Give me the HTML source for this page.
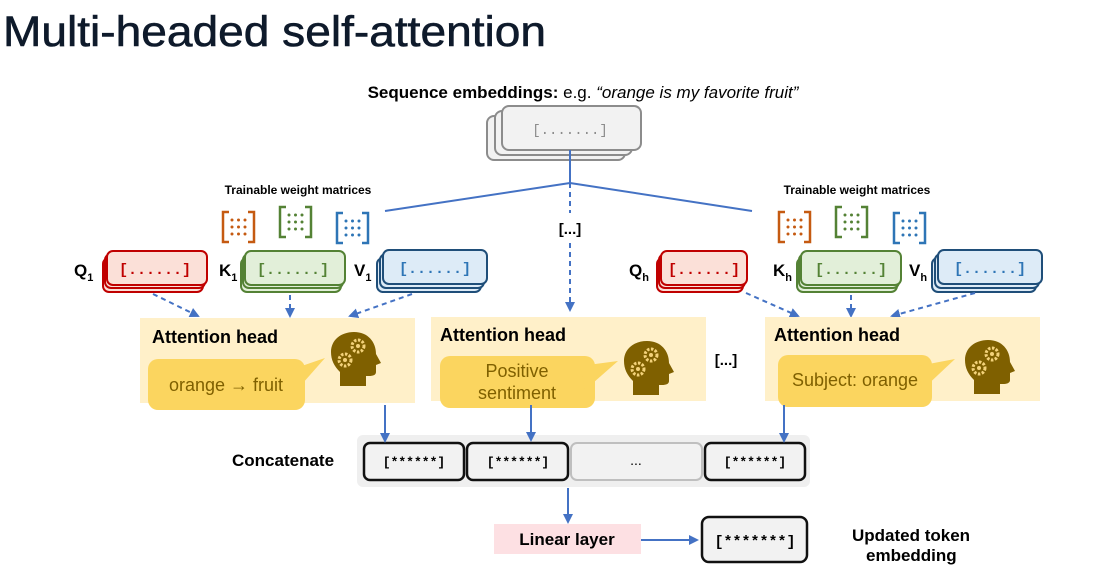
<!DOCTYPE html>
<html><head><meta charset="utf-8"><style>
html,body{margin:0;padding:0;background:#fff;}
svg{display:block;font-family:"Liberation Sans","DejaVu Sans",sans-serif;}
</style></head><body>
<svg width="1095" height="588" viewBox="0 0 1095 588" xmlns="http://www.w3.org/2000/svg">
<defs>
<marker id="ah" markerWidth="10" markerHeight="10" refX="8" refY="5" orient="auto" markerUnits="userSpaceOnUse"><path d="M0,0 L10,5 L0,10 z" fill="#4472c4"/></marker>
<g id="head">
<path d="M0,-22 C14,-22 22,-12 22,0 L27,9 L22,11 L22,18 C22,21 19,22 15,22 L12,22 L12,32 L-14,32 L-14,18 C-20,12 -23,6 -23,-2 C-23,-14 -13,-22 0,-22 z" fill="#7f6000"/>
<circle cx="4" cy="-8" r="6" fill="none" stroke="#f3d27a" stroke-width="3" stroke-dasharray="2.5 1.5"/>
<circle cx="4" cy="-8" r="2" fill="#f3d27a"/>
<circle cx="-9" cy="6" r="6" fill="none" stroke="#f3d27a" stroke-width="3" stroke-dasharray="2.5 1.5"/>
<circle cx="-9" cy="6" r="2" fill="#f3d27a"/>
</g>
<g id="mat">
<path d="M7,0 L1,0 L1,30 L7,30 M26,0 L32,0 L32,30 L26,30" fill="none" stroke="currentColor" stroke-width="2.5"/>
<g fill="currentColor">
<circle cx="10" cy="8" r="1.5"/><circle cx="16.5" cy="8" r="1.5"/><circle cx="23" cy="8" r="1.5"/>
<circle cx="10" cy="15" r="1.5"/><circle cx="16.5" cy="15" r="1.5"/><circle cx="23" cy="15" r="1.5"/>
<circle cx="10" cy="22" r="1.5"/><circle cx="16.5" cy="22" r="1.5"/><circle cx="23" cy="22" r="1.5"/>
</g>
</g>
</defs>

<text x="3" y="46" font-size="43" fill="#0e1a2b" stroke="#0e1a2b" stroke-width="0.6" textLength="543" lengthAdjust="spacingAndGlyphs">Multi-headed self-attention</text>

<text x="583" y="98" font-size="17" text-anchor="middle" fill="#000"><tspan font-weight="bold">Sequence embeddings:</tspan> e.g.  <tspan font-style="italic">“orange is my favorite fruit”</tspan></text>

<g stroke="#8c8c8c" stroke-width="2" fill="#f2f2f2">
<rect x="487" y="116" width="138" height="44" rx="7"/>
<rect x="495" y="111" width="137" height="44" rx="7"/>
<rect x="502" y="106" width="139" height="44" rx="7"/>
</g>
<text x="570" y="134" font-size="14" fill="#8c8c8c" text-anchor="middle" font-family="Liberation Mono, monospace">[.......]</text>

<g stroke="#4472c4" stroke-width="2" fill="none">
<line x1="570" y1="150" x2="570" y2="183"/>
<line x1="570" y1="183" x2="385" y2="211"/>
<line x1="570" y1="183" x2="752" y2="211"/>
<line x1="570" y1="183" x2="570" y2="213" stroke-dasharray="5 4"/>
<line x1="570" y1="243" x2="570" y2="310" stroke-dasharray="5 4" marker-end="url(#ah)"/>
</g>
<text x="570" y="234" font-size="15" font-weight="bold" text-anchor="middle">[...]</text>

<text x="298" y="194" font-size="12" font-weight="bold" text-anchor="middle">Trainable weight matrices</text>
<text x="857" y="194" font-size="12" font-weight="bold" text-anchor="middle">Trainable weight matrices</text>

<use href="#mat" x="222" y="212" style="color:#c55a11"/>
<use href="#mat" x="279" y="207" style="color:#548235"/>
<use href="#mat" x="336" y="213" style="color:#2e75b6"/>
<use href="#mat" x="778" y="212" style="color:#c55a11"/>
<use href="#mat" x="835" y="207" style="color:#548235"/>
<use href="#mat" x="893" y="213" style="color:#2e75b6"/>

<g stroke-width="2">
<g stroke="#c00000" fill="#fbe0d8">
<rect x="103" y="258" width="100" height="34" rx="6"/><rect x="105" y="254" width="100" height="34" rx="6"/><rect x="107" y="251" width="100" height="34" rx="6"/>
<rect x="657" y="258" width="86" height="34" rx="6"/><rect x="659" y="254" width="86" height="34" rx="6"/><rect x="661" y="251" width="86" height="34" rx="6"/>
</g>
<g stroke="#548235" fill="#e2efd9">
<rect x="241" y="258" width="100" height="34" rx="6"/><rect x="243" y="254" width="100" height="34" rx="6"/><rect x="245" y="251" width="100" height="34" rx="6"/>
<rect x="797" y="258" width="100" height="34" rx="6"/><rect x="799" y="254" width="100" height="34" rx="6"/><rect x="801" y="251" width="100" height="34" rx="6"/>
</g>
<g stroke="#1f4e79" fill="#ddebf7">
<rect x="377" y="258" width="104" height="34" rx="6"/><rect x="380" y="254" width="104" height="34" rx="6"/><rect x="383" y="250" width="104" height="34" rx="6"/>
<rect x="932" y="258" width="104" height="34" rx="6"/><rect x="935" y="254" width="104" height="34" rx="6"/><rect x="938" y="250" width="104" height="34" rx="6"/>
</g>
</g>
<g font-family="Liberation Mono, monospace" font-size="15" font-weight="bold" text-anchor="middle">
<text x="155" y="274" fill="#c00000">[......]</text>
<text x="293" y="274" fill="#548235">[......]</text>
<text x="435" y="273" fill="#2e75b6">[......]</text>
<text x="704" y="274" fill="#c00000">[......]</text>
<text x="851" y="274" fill="#548235">[......]</text>
<text x="990" y="273" fill="#2e75b6">[......]</text>
</g>
<g font-size="17" font-weight="bold">
<text x="74" y="276">Q<tspan font-size="11" dy="5">1</tspan></text>
<text x="219" y="276">K<tspan font-size="11" dy="5">1</tspan></text>
<text x="354" y="276">V<tspan font-size="11" dy="5">1</tspan></text>
<text x="629" y="276">Q<tspan font-size="11" dy="5">h</tspan></text>
<text x="773" y="276">K<tspan font-size="11" dy="5">h</tspan></text>
<text x="909" y="276">V<tspan font-size="11" dy="5">h</tspan></text>
</g>

<g stroke="#4472c4" stroke-width="2" stroke-dasharray="5 4" fill="none" marker-end="url(#ah)">
<line x1="153" y1="294" x2="198" y2="316"/>
<line x1="290" y1="295" x2="290" y2="316"/>
<line x1="412" y1="294" x2="350" y2="316"/>
<line x1="746" y1="293" x2="798" y2="316"/>
<line x1="851" y1="295" x2="851" y2="316"/>
<line x1="975" y1="293" x2="892" y2="316"/>
</g>

<g fill="#fff0c9">
<rect x="140" y="318" width="275" height="85"/>
<rect x="431" y="317" width="275" height="84"/>
<rect x="765" y="317" width="275" height="84"/>
</g>
<g font-size="18" font-weight="bold">
<text x="152" y="343">Attention head</text>
<text x="440" y="341">Attention head</text>
<text x="774" y="341">Attention head</text>
</g>
<g fill="#fbd55f">
<rect x="148" y="359" width="157" height="51" rx="10"/>
<path d="M290,370 L325,358 L295,392 z"/>
<rect x="440" y="356" width="155" height="52" rx="10"/>
<path d="M580,366 L618,361 L585,390 z"/>
<rect x="778" y="355" width="154" height="52" rx="10"/>
<path d="M918,366 L955,359 L922,390 z"/>
</g>
<g font-size="18" fill="#7f6000" text-anchor="middle">
<text x="226" y="391">orange → fruit</text>
<text x="517" y="377">Positive</text>
<text x="517" y="399">sentiment</text>
<text x="855" y="386">Subject: orange</text>
</g>
<use href="#head" x="354" y="354"/>
<use href="#head" x="647" y="363"/>
<use href="#head" x="988" y="362"/>
<text x="726" y="365" font-size="15" font-weight="bold" text-anchor="middle">[...]</text>

<text x="232" y="466" font-size="17" font-weight="bold">Concatenate</text>
<rect x="357" y="435" width="453" height="52" rx="6" fill="#efefef"/>
<g stroke="#111" stroke-width="2.5" fill="#f2f2f2">
<rect x="364" y="443" width="100" height="37" rx="6"/>
<rect x="467" y="443" width="101" height="37" rx="6"/>
<rect x="705" y="443" width="100" height="37" rx="6"/>
</g>
<rect x="571" y="443" width="131" height="37" rx="6" fill="#f2f2f2" stroke="#bfbfbf" stroke-width="2"/>
<g font-family="Liberation Mono, monospace" font-size="13" font-weight="bold" text-anchor="middle">
<text x="414" y="466">[******]</text>
<text x="518" y="466">[******]</text>
<text x="755" y="466">[******]</text>
</g>
<text x="636" y="465" font-size="14" text-anchor="middle">...</text>

<g stroke="#4472c4" stroke-width="2" marker-end="url(#ah)">
<line x1="385" y1="405" x2="385" y2="441"/>
<line x1="531" y1="405" x2="531" y2="440"/>
<line x1="784" y1="405" x2="784" y2="441"/>
<line x1="568" y1="488" x2="568" y2="522"/>
<line x1="640" y1="540" x2="697" y2="540"/>
</g>

<rect x="494" y="524" width="147" height="30" fill="#fde0e3"/>
<text x="567" y="545" font-size="17" font-weight="bold" text-anchor="middle">Linear layer</text>
<rect x="702" y="517" width="105" height="45" rx="7" fill="#f2f2f2" stroke="#111" stroke-width="2.5"/>
<text x="755" y="546" font-family="Liberation Mono, monospace" font-size="15" font-weight="bold" text-anchor="middle">[*******]</text>
<text x="852" y="541" font-size="17" font-weight="bold">Updated token</text>
<text x="866" y="561" font-size="17" font-weight="bold">embedding</text>
</svg>
</body></html>
